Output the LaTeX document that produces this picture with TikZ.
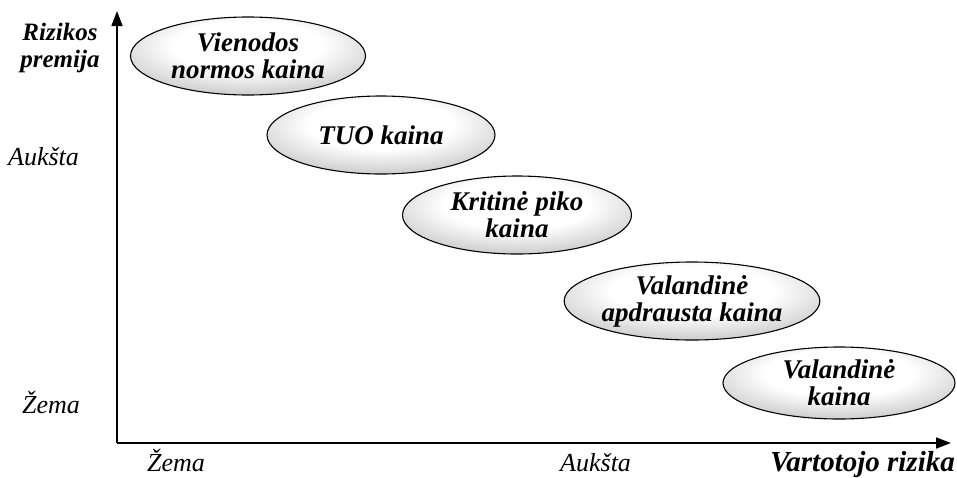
\documentclass[tikz,border=0pt]{standalone}
\usepackage{fontspec}
\setmainfont{Liberation Serif}
\usetikzlibrary{shapes.geometric,arrows.meta}
\pgfdeclareradialshading{ellshade}{\pgfpoint{0bp}{8bp}}{%
  color(0bp)=(white); color(16bp)=(white); color(44bp)=(gray!75); color(100bp)=(gray!75)}
\begin{document}
\begin{tikzpicture}[x=1pt,y=-1pt,
    font=\fontsize{26}{27}\selectfont]

      \useasboundingbox (0,0) rectangle (957,477);

      % axes
      \coordinate (o) at (117,443);
      \coordinate (ytip) at (117,11);
      \coordinate (xtip) at (951,443);
      \draw[line width=1.6pt, -{Triangle[length=15pt,width=11pt]}] (o) -- (ytip);
      \draw[line width=1.6pt, -{Triangle[length=15pt,width=11pt]}] (o) -- (xtip);

      \begin{scope}[every node/.style={ellipse, draw, line width=1.1pt, inner sep=0pt,
          align=center, font=\fontsize{27}{27}\selectfont\bfseries\itshape,
          shading=ellshade}]
        \node[minimum width=235, minimum height=78] (1) at (248,56)  {Vienodos\\normos kaina};
        \node[minimum width=228, minimum height=78] (2) at (381,135) {TUO kaina};
        \node[minimum width=229, minimum height=78] (3) at (517,215) {Kritinė piko\\kaina};
        \node[minimum width=248, minimum height=78] (4) at (692,301) {Valandinė\\apdrausta kaina};
        \node[minimum width=232, minimum height=72] (5) at (839,383) {Valandinė\\kaina};
      \end{scope}

      \begin{scope}[every node/.style={inner sep=0pt, align=center}]
        \node[font=\fontsize{25}{27}\selectfont\bfseries\itshape] (rp) at (60,48) {Rizikos\\premija};
        \node[font=\fontsize{26}{27}\selectfont\itshape, anchor=base west] (ya) at (8,165) {Aukšta};
        \node[font=\fontsize{26}{27}\selectfont\itshape, anchor=base west] (yz) at (22,413) {Žema};
        \node[font=\fontsize{26}{27}\selectfont\itshape, anchor=base west] (xz) at (147,471) {Žema};
        \node[font=\fontsize{26}{27}\selectfont\itshape, anchor=base west] (xa) at (560,471) {Aukšta};
        \node[font=\fontsize{29}{27}\selectfont\bfseries\itshape, anchor=base east] (vr) at (955,471) {Vartotojo rizika};
      \end{scope}

    \end{tikzpicture}
\end{document}
